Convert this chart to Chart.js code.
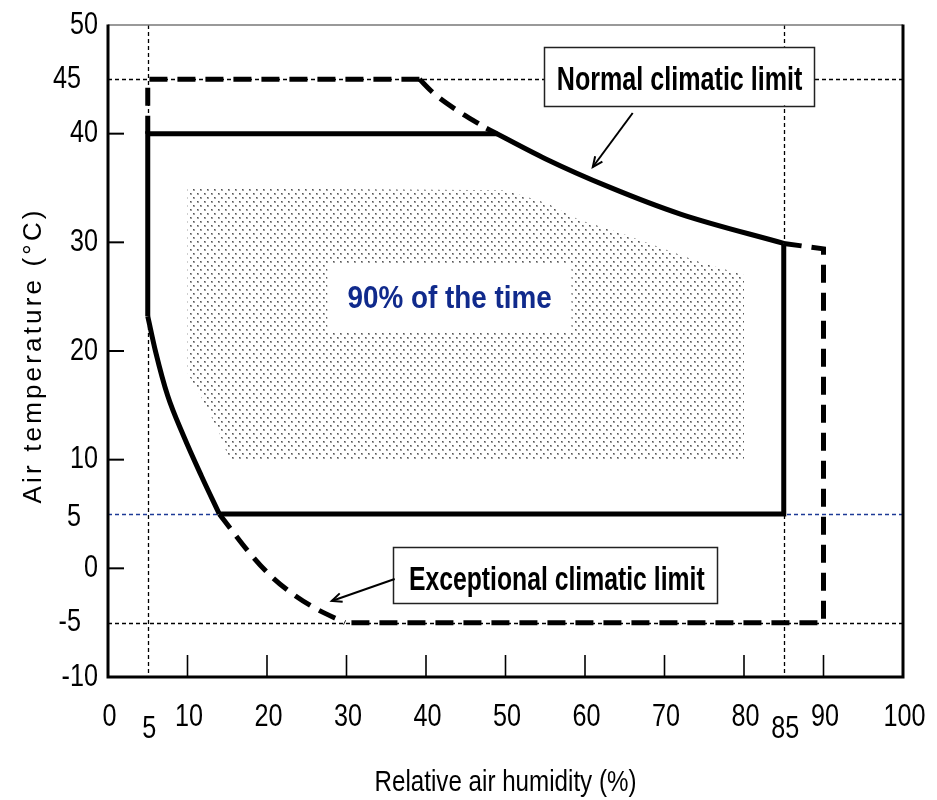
<!DOCTYPE html>
<html><head><meta charset="utf-8">
<script src="https://cdn.jsdelivr.net/npm/chart.js@4.4.1/dist/chart.umd.min.js"></script>
<style>html,body{margin:0;padding:0;background:#fff}#wrap{width:937px;height:800px;position:relative}</style>
</head><body><div id="wrap"><canvas id="c"></canvas></div>
<script>
// ---- axis ticks ----
const xTicks = [0,10,20,30,40,50,60,70,80,90,100];
const xExtraTicks = [5,85];
const yTicks = [-10,0,10,20,30,40,50];
const yExtraTicks = [-5,5,45];
const xTickMarks = [10,20,30,40,50,60,70,80,90];
const yTickMarks = [0,10,20,30,40];
const vRefLines = [5,85];
const hRefLines = [45,5,-5];

// ---- Normal climatic limit (solid) ----
const normalTopRH   = [5, 5, 49];
const normalTopT    = [23.2, 40, 40];
const normalCurveRH = [47.6, 55, 63, 72, 85];
const normalCurveT  = [40.5, 37.7, 35.1, 32.6, 29.9];
const normalRightRH = [85, 85, 14];
const normalRightT  = [29.9, 5, 5];
const normalLowRH   = [5, 6, 7.5, 9.5, 11.75, 14];
const normalLowT    = [23.2, 19.9, 15.9, 12.2, 8.5, 5];

// ---- Exceptional climatic limit (dashed) ----
const excTopRH   = [5, 5, 39.2];
const excTopT    = [40, 45, 45];
const excCurveRH = [39.2, 41, 44, 47.6];
const excCurveT  = [45, 43.7, 42.1, 40.5];
const excRightRH = [85, 90, 90, 29.8];
const excRightT  = [29.9, 29.4, -5, -5];
const excLowRH   = [14, 15.3, 17.6, 20.1, 22.9, 26, 29.8];
const excLowT    = [5, 3.75, 1.6, -0.43, -2.18, -3.65, -5];

// ---- 90% of the time region ----
const zoneRH = [10, 50, 55.2, 59.3, 64.3, 70.3, 74.4, 80, 80, 15.3, 14, 12.4, 10, 10];
const zoneT  = [35, 34.8, 33.6, 32.05, 30.9, 29.3, 28.2, 27, 10, 10, 12.45, 14.85, 18, 35];

const pts = (rh, t) => rh.map((v, i) => ({x: v, y: t[i]}));

const NARROW = '"Liberation Sans Narrow","Arial Narrow","Liberation Sans",Arial,sans-serif';
const SANS = '"Liberation Sans",Arial,sans-serif';

// stipple pattern
const pc = document.createElement('canvas');
pc.width = 7; pc.height = 8;
const pctx = pc.getContext('2d');
pctx.fillStyle = '#a0a0a0';
pctx.fillRect(1,1,2,2);
pctx.fillRect(4,5,2,2);
pctx.fillStyle = '#555';
pctx.fillRect(1,1,1,1);
pctx.fillRect(4,5,1,1);
const stip = pctx.createPattern(pc, 'repeat');

function solid(data, curved){ return {data, showLine:true, borderColor:'#000', borderWidth:5, pointRadius:0, tension: curved ? 0.4 : 0, cubicInterpolationMode: curved ? 'monotone' : 'default', fill:false, order:1, borderCapStyle:'butt', borderJoinStyle:'miter'}; }
function dashed(data, curved){ return {data, showLine:true, borderColor:'#000', borderWidth:5, borderDash:[18,10], pointRadius:0, tension: curved ? 0.4 : 0, cubicInterpolationMode: curved ? 'monotone' : 'default', fill:false, order:2, borderCapStyle:'butt'}; }

function fitText(ctx, text, cx, baseline, font, width, color){
  ctx.save();
  ctx.font = font;
  const w = ctx.measureText(text).width;
  ctx.translate(cx, baseline);
  ctx.scale(width / w, 1);
  ctx.textAlign = 'center';
  ctx.textBaseline = 'alphabetic';
  ctx.fillStyle = color;
  ctx.fillText(text, 0, 0);
  ctx.restore();
}
function seg(ctx, x1, y1, x2, y2){ ctx.beginPath(); ctx.moveTo(x1,y1); ctx.lineTo(x2,y2); ctx.stroke(); }
function arrow(ctx, x1, y1, x2, y2){
  ctx.save(); ctx.strokeStyle='#000'; ctx.lineWidth=2; ctx.setLineDash([]);
  seg(ctx,x1,y1,x2,y2);
  const a = Math.atan2(y2-y1, x2-x1), L = 11, s = 0.42;
  ctx.beginPath();
  ctx.moveTo(x2 - L*Math.cos(a - s), y2 - L*Math.sin(a - s));
  ctx.lineTo(x2, y2);
  ctx.lineTo(x2 - L*Math.cos(a + s), y2 - L*Math.sin(a + s));
  ctx.stroke();
  ctx.restore();
}

const deco = {
  id: 'deco',
  beforeDatasetsDraw(chart){
    const {ctx, chartArea:a, scales:{x, y}} = chart;
    ctx.save();
    ctx.lineWidth = 1.3;
    ctx.setLineDash([4,3]);
    vRefLines.forEach(v => { const px = Math.round(x.getPixelForValue(v)) + 0.5; ctx.strokeStyle = '#000'; seg(ctx, px, a.top, px, a.bottom); });
    hRefLines.forEach(v => { const py = Math.round(y.getPixelForValue(v)) + 0.5; ctx.strokeStyle = (v === 5) ? '#1d3a96' : '#000'; seg(ctx, a.left, py, a.right, py); });
    ctx.restore();
  },
  afterDatasetsDraw(chart){
    const {ctx, chartArea:a, scales:{x, y}} = chart;
    const X = v => x.getPixelForValue(v), Y = v => y.getPixelForValue(v);
    ctx.save();
    ctx.setLineDash([]);

    // 90% label
    ctx.fillStyle = '#fff';
    ctx.fillRect(X(27.6), Y(28.1), X(58.3)-X(27.6), Y(21.74)-Y(28.1));
    fitText(ctx, '90% of the time', X(42.98), Y(23.96), 'bold 31px ' + NARROW, X(25.7)-X(0), '#102a8c');

    // label boxes
    const boxes = [
      {x1:54.9, x2:88.8, yt:48.0, yb:42.6, cx:71.9, base:44.0, w:30.9, text:'Normal climatic limit'},
      {x1:35.9, x2:76.7, yt:1.96, yb:-3.19, cx:56.45, base:-2.0, w:37.2, text:'Exceptional climatic limit'}
    ];
    boxes.forEach(b => {
      const l = X(b.x1), r = X(b.x2), t = Y(b.yt), bt = Y(b.yb);
      ctx.fillStyle = '#fff';
      ctx.fillRect(l, t, r-l, bt-t);
      ctx.strokeStyle = '#222'; ctx.lineWidth = 1.5;
      ctx.strokeRect(Math.round(l)+0.5, Math.round(t)+0.5, Math.round(r-l), Math.round(bt-t));
      fitText(ctx, b.text, X(b.cx), Y(b.base), 'bold 34px ' + NARROW, X(b.w)-X(0), '#000');
    });
    arrow(ctx, X(66.0), Y(41.9), X(60.98), Y(36.93));
    arrow(ctx, X(36.06), Y(-0.98), X(28.14), Y(-3.0));

    // frame
    ctx.strokeStyle = '#777'; ctx.lineWidth = 1.5;
    seg(ctx, a.left, a.top, a.right, a.top);
    ctx.strokeStyle = '#000'; ctx.lineWidth = 3;
    ctx.beginPath(); ctx.moveTo(a.left, a.top - 0.5); ctx.lineTo(a.left, a.bottom); ctx.lineTo(a.right, a.bottom); ctx.lineTo(a.right, a.top - 0.5); ctx.stroke();

    // inward tick marks
    ctx.lineWidth = 2;
    yTickMarks.forEach(v => { const py = Y(v); seg(ctx, a.left, py, a.left + 16, py); });
    ctx.lineWidth = 1.6;
    xTickMarks.forEach(v => { const px = X(v); seg(ctx, px, a.bottom, px, a.bottom - 22); });

    // tick labels
    ctx.font = '32px ' + NARROW;
    const sx = 28 / ctx.measureText('50').width;
    ctx.fillStyle = '#000';
    ctx.textBaseline = 'middle';
    const lab = (txt, px, py, align) => {
      ctx.save(); ctx.translate(px, py); ctx.scale(sx, 1); ctx.textAlign = align; ctx.fillText(txt, 0, 0); ctx.restore();
    };
    yTicks.forEach(v => lab(String(v), a.left - 10, Y(v), 'right'));
    yExtraTicks.forEach(v => lab(String(v), a.left - 27, Y(v) + (v === 5 ? 3 : 0), 'right'));
    xTicks.forEach(v => lab(String(v), X(v) + 1.5, a.bottom + 40, 'center'));
    xExtraTicks.forEach(v => lab(String(v), X(v) + 1.5, a.bottom + 52, 'center'));

    // axis titles
    fitText(ctx, 'Relative air humidity (%)', (a.left + a.right)/2, a.bottom + 114, '30px ' + NARROW, 262, '#000');
    ctx.save();
    ctx.translate(34, 357);
    ctx.rotate(-Math.PI/2);
    ctx.font = '26px ' + SANS;
    const title = 'Air temperature (°C)';
    const w0 = ctx.measureText(title).width;
    const chars = Array.from(title);
    const sp = (293 - w0) / (chars.length - 1);
    let cur = -293/2;
    ctx.textAlign = 'left'; ctx.textBaseline = 'middle'; ctx.fillStyle = '#000';
    chars.forEach(ch => { ctx.fillText(ch, cur, 0); cur += ctx.measureText(ch).width + sp; });
    ctx.restore();

    ctx.restore();
  }
};

new Chart(document.getElementById('c'), {
  type: 'scatter',
  data: {
    datasets: [
      {data: pts(zoneRH, zoneT), showLine:true, borderWidth:0, borderColor:'rgba(0,0,0,0)', backgroundColor: stip, fill:'shape', pointRadius:0, tension:0, order:10},
      solid(pts(normalTopRH, normalTopT), false),
      solid(pts(normalCurveRH, normalCurveT), true),
      solid(pts(normalRightRH, normalRightT), false),
      solid(pts(normalLowRH, normalLowT), true),
      dashed(pts(excTopRH, excTopT), false),
      dashed(pts(excCurveRH, excCurveT), true),
      dashed(pts(excRightRH, excRightT), false),
      dashed(pts(excLowRH, excLowT), true)
    ]
  },
  options: {
    responsive: true,
    maintainAspectRatio: false,
    animation: false,
    events: [],
    layout: {padding: {left:108, top:25, right:34, bottom:123}},
    plugins: {legend:{display:false}, tooltip:{enabled:false}},
    scales: {
      x: {type:'linear', min:0, max:100, display:false},
      y: {type:'linear', min:-10, max:50, display:false}
    }
  },
  plugins: [deco]
});
</script>
</body></html>
